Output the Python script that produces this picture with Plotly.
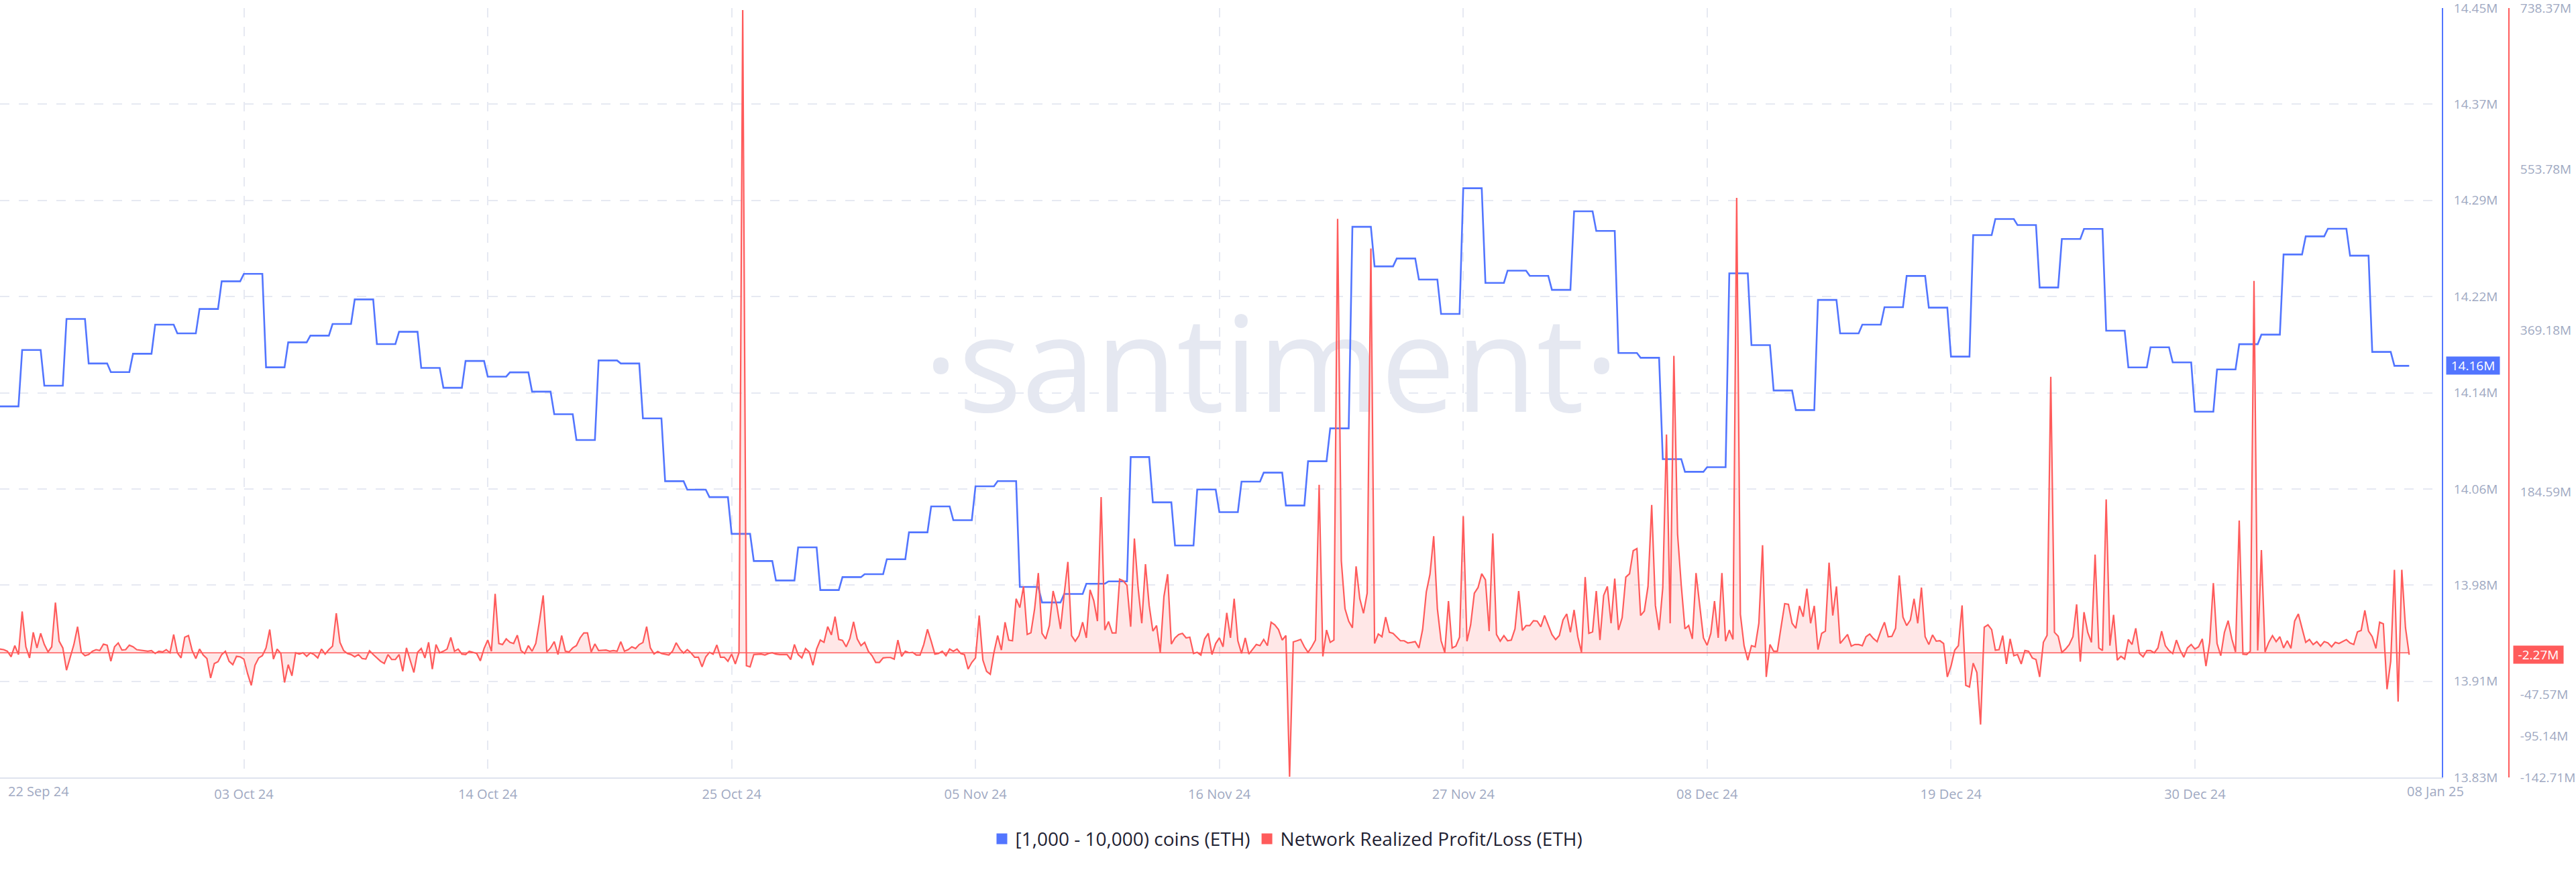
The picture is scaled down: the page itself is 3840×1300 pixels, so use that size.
import numpy as np
import pandas as pd
import plotly.graph_objects as go

# ---------------- data ----------------
START = "2024-09-22 00:00"
X_END = "2025-01-10 03:20"
SAMPLES_PER_DAY = 6  # 4-hour sampling

# [1,000 - 10,000) coins holders balance (million ETH), one value per day
blue_daily = [
    14.129, 14.1745, 14.1457, 14.1995, 14.1636, 14.1566, 14.1714, 14.1949, 14.1878, 14.2075,
    14.2298, 14.2358, 14.1605, 14.1806, 14.186, 14.1954, 14.2152, 14.1792, 14.1891, 14.16,
    14.144, 14.1656, 14.153, 14.1564, 14.1409, 14.1227, 14.1019, 14.166, 14.1636, 14.1193,
    14.0687, 14.0619, 14.0559, 14.0263, 14.0044, 13.9887, 14.0154, 13.981, 13.9914, 13.9938,
    14.0058, 14.0275, 14.0484, 14.0373, 14.0646, 14.0688, 13.9835, 13.971, 13.9778, 13.9861,
    13.988, 14.0882, 14.0517, 14.0169, 14.062, 14.0438, 14.0684, 14.0756, 14.0491, 14.0848,
    14.1113, 14.2737, 14.2418, 14.2482, 14.2312, 14.2035, 14.3048, 14.2285, 14.2384, 14.2342,
    14.2229, 14.2862, 14.2704, 14.172, 14.1682, 14.0865, 14.0763, 14.08, 14.2362, 14.1784,
    14.1418, 14.126, 14.2148, 14.1878, 14.1949, 14.2089, 14.2341, 14.2086, 14.1691, 14.267,
    14.28, 14.2751, 14.2248, 14.2639, 14.272, 14.19, 14.1604, 14.1766, 14.1645, 14.1247,
    14.1588, 14.1791, 14.1868, 14.2514, 14.266, 14.2722, 14.2505, 14.1729, 14.1617,
]

# Network Realized Profit/Loss (million ETH), 4-hourly
red_seg1 = [
    4.3, 3.6, 1.8, -4.6, 8.2, -2.0, 47.3, 6.9, -5.9, 23.5,
    5.6, 22.3, 9.5, 1.0, 6.9, 57.5, 13.3, 5.6, -19.9, -4.6,
    9.5, 29.9, 0.5, -3.3, -2.0, 1.8, 3.6, 2.6, 10.0, 8.7,
    -9.7, 6.9, 11.3, 3.1, 3.6, 8.7, 6.9, 3.6, 3.1, 2.6,
    1.8, 2.6, -0.8, 1.8, 1.0, 3.6, 0.0, 21.0, 0.0, -5.9,
    17.9, 19.7, 2.6, -6.6, 4.3, -2.6, -6.6, -28.9, -12.3, -10.2,
    -2.0, 1.8, -9.7, -13.6, -4.1, -4.6, -7.2, -23.8, -37.3, -14.3,
    -5.9, -3.3, 5.6, 26.6, -7.2, 4.3, -0.8, -34.0, -13.6, -26.3,
    0.0, -1.5, 0.0, -4.1, 0.0, -2.0, -5.9, 4.3, -1.5, 3.6,
    7.7, 45.3, 12.0, 2.6, -0.8, -2.0, -4.6, -2.0, -6.6, -7.2,
    2.3, -2.0, -5.9, -9.7, -12.3, -2.0, -7.7, -7.7, -2.0, -21.2,
    5.6, -8.4, -22.5, 0.5, 4.9, -5.9, 12.0, -18.7, 9.5, 0.0,
    1.8, 4.3, 17.6, 1.8, 4.3, -1.5, -2.0, 1.8, 0.5, -0.8,
    -9.2, 4.9, 14.6, 1.8, 67.5, 10.7, 9.5, 15.9, 12.0, 10.7,
    20.2, 2.6, -0.8, 8.2, 1.8, 10.7, 36.3, 65.7, 1.0, 5.6,
    12.8, -2.0, 19.7, 1.8, 1.0, 5.6, 8.2, 17.1, 22.8, 22.8,
    1.0, 10.2, 2.6, 3.1, 3.1, 1.8, 2.6,
]
red_seg2 = [
    1.8, 12.8, 1.8, 3.6, 6.9, 4.9, 9.5, 11.8, 29.9, 5.6,
    -1.3, 1.5, -0.8, -1.5, -2.6, 1.8, 11.5, 4.3, -0.3, 3.6,
    0.0, -5.1, -5.1, -16.1, -4.6, 0.5, -1.5, 9.0, -5.1, -5.1,
    -9.7, -1.5, -12.8, 0.0, 736.0, -14.8, -16.1, -2.0, -1.5, -1.5,
    -2.6, -0.8, 0.0, -1.5, -2.0, -2.0, -2.0, -7.7, 9.5, -2.0,
    -5.9, 4.9, 1.0, -14.3, 4.3, 14.6, 12.0, 29.9, 20.5, 41.4,
    15.3, 14.3, 6.9, 16.4, 35.5, 15.9, 8.2, 12.0, 1.8, -3.3,
    -11.0, -11.0, -5.9, -5.4, -5.4, -7.2, 14.6, -4.1, 1.8, 0.0,
    0.5, -2.6, -2.6, 9.5, 26.9, 13.3, -1.5, -0.8, 1.8, -3.3,
    4.3, 1.8, 4.3, -0.8, -2.0, -18.7, -11.0, -5.9, 42.7, -8.4,
    -21.2, -24.6, 0.5, 19.7, 3.1, 35.0, 14.6, 13.8, 61.9, 51.7,
    76.0, 21.0, 23.0, 50.4, 91.3, 22.3, 15.9, 31.2, 70.8, 54.2,
    27.4, 67.0, 104.1, 19.7, 13.3, 19.7, 35.0, 17.1, 72.1, 59.8,
    36.3, 178.3, 26.1, 35.8, 22.8, 22.8, 84.4, 82.4, 77.2, 29.9,
    130.9, 74.7, 33.8, 101.5, 54.2, 24.8, 31.2, 0.5, 64.5, 90.0,
    10.0, 17.1, 21.0, 22.3, 17.1, 17.9, -0.8, 0.5, -2.6, 15.9,
    22.3, -2.0, 10.7,
]
red_seg3 = [
    17.1, 6.9, 45.8, 17.1, 61.9, 13.8, -0.8, 17.1, -1.5, 4.3,
    9.5, 8.2, 15.3, 8.2, 35.0, 32.0, 26.6, 14.6, 19.7, -142.0,
    12.5, 13.8, 15.3, 6.9, 0.5, 6.9, 14.6, 192.3, -4.1, 26.1,
    12.0, 14.6, 497.0, 105.4, 50.4, 36.3, 28.6, 99.0, 61.9, 45.3,
    68.3, 463.0, 10.7, 21.5, 18.4, 40.9, 23.5, 22.3, 18.4, 13.8,
    13.8, 11.3, 12.0, 12.8, 5.6, 26.6, 69.6, 90.0, 133.5, 50.4,
    13.8, 0.5, 59.3, 5.6, 7.7, 17.9, 156.5, 13.3, 32.0, 68.3,
    74.7, 90.5, 83.6, 24.8, 136.6, 21.0, 13.3, 19.7, 13.8, 14.6,
    27.4, 70.8, 25.6, 31.2, 31.2, 36.8, 36.3, 29.9, 42.7, 32.5,
    21.0, 15.1, 19.7, 37.6, 44.5, 23.5, 49.1, 18.4, 0.5, 86.7,
    22.3, 24.0, 70.8, 14.6, 65.7, 76.0, 33.8, 84.9, 26.1, 40.2,
    86.7, 90.5, 116.9, 119.4, 42.7, 47.8, 76.0, 169.3, 54.2, 26.1,
    74.7, 250.0, 33.8, 340.0, 136.1, 77.2, 27.4, 31.2, 15.9, 91.3,
    54.2, 17.1, 8.7, 22.3, 59.3, 17.1, 91.3, 13.3, 26.1, 15.3,
    521.0, 44.0, 8.2, -8.4, 8.2, 6.9, 33.8, 123.3, -27.6, 9.5,
    1.8, 1.8, 29.2, 56.3, 55.5, 33.8, 28.1, 53.7, 41.4, 73.4,
    33.8, 53.7, 3.6,
]
red_seg4 = [
    22.3, 24.8, 103.3, 42.7, 76.0, 10.7, 15.9, 21.0, 7.7, 9.5,
    9.5, 8.2, 18.4, 21.5, 16.4, 12.8, 24.8, 35.0, 18.4, 18.9,
    28.1, 88.7, 40.9, 31.2, 37.6, 61.9, 33.8, 74.7, 18.4, 9.5,
    20.5, 13.3, 13.8, 10.7, -27.6, -15.3, 3.1, 8.2, 54.2, -37.3,
    -39.1, -11.8, -22.5, -82.1, 29.2, 32.0, 26.6, 3.1, 3.6, 19.7,
    -12.8, 15.9, -3.3, -2.0, -12.8, 2.6, 1.8, -5.9, -7.7, -27.6,
    12.0, 20.0, 316.0, 23.5, 18.9, 0.5, 4.3, 9.5, 18.4, 55.5,
    -10.2, 46.5, 23.5, 12.0, 112.5, 5.6, 2.6, 175.7, 8.2, 43.5,
    -8.4, -4.1, -7.2, 15.3, 9.5, 28.1, -0.8, -4.6, 2.6, 2.6,
    0.0, 5.6, 24.8, 8.2, 2.6, -0.8, 14.6, 3.1, -5.1, 5.6,
    9.5, 4.3, 6.9, 15.9, -15.3, 12.0, 79.8, 10.7, -3.3, 23.5,
    36.8, 15.9, 1.0, 151.4, -1.5, -2.0, 1.8, 426.0, 2.6, 117.6,
    1.0, 12.0, 19.7, 12.8, 18.4, 5.6, 13.8, 5.1, 36.3, 44.5,
    28.1, 12.0, 15.3, 9.5, 12.8, 7.7, 12.8, 11.3, 6.9, 12.0,
    10.7, 12.8, 15.1, 11.3, 9.5, 24.0, 25.6, 48.6, 24.8, 18.4,
    5.1, 35.0, 33.2, -41.7, -9.7, 95.1, -55.8, 95.1, 28.6, -2.27,
]

blue_ticktext = ["14.45M", "14.37M", "14.29M", "14.22M", "14.14M",
                 "14.06M", "13.98M", "13.91M", "13.83M"]
blue_range = [13.83, 14.45]
red_tickvals = [738.37, 553.78, 369.18, 184.59, -47.57, -95.14, -142.71]
red_ticktext = ["738.37M", "553.78M", "369.18M", "184.59M", "-47.57M", "-95.14M", "-142.71M"]
red_range = [-142.71, 738.37]
x_tickvals = ["2024-09-22", "2024-10-03", "2024-10-14", "2024-10-25", "2024-11-05",
              "2024-11-16", "2024-11-27", "2024-12-08", "2024-12-19", "2024-12-30"]
x_ticktext = ["", "03 Oct 24", "14 Oct 24", "25 Oct 24", "05 Nov 24",
              "16 Nov 24", "27 Nov 24", "08 Dec 24", "19 Dec 24", "30 Dec 24"]
first_label = "22 Sep 24"
last_label = "08 Jan 25"

name_blue = "[1,000 - 10,000) coins (ETH)"
name_red = "Network Realized Profit/Loss (ETH)"

# ---------------- build series ----------------
red = np.array(red_seg1 + red_seg2 + red_seg3 + red_seg4)
n = len(red)
dates = pd.date_range(START, periods=n, freq="4h")
blue = np.repeat(np.array(blue_daily), SAMPLES_PER_DAY)
if len(blue) < n:
    blue = np.concatenate([blue, np.full(n - len(blue), blue[-1])])
blue = blue[:n]

BLUE = "#5275ff"
RED = "#ff5b5b"
GRID = "#e6e9f2"
TICK = "#a0a9c2"
FONT = "Open Sans"

W, H = 3840, 1300
ML, MR, MT, MB = 0, 100, 12, 141
paper_w = W - ML - MR
plot_right = 3640
x_dom_end = plot_right / paper_w

x0 = pd.Timestamp(START)
x1 = pd.Timestamp(X_END)

# tiny padding so the end ticks are kept inside the axis range
eps_b = (blue_range[1] - blue_range[0]) * 1e-6
eps_r = (red_range[1] - red_range[0]) * 1e-6

fig = go.Figure()

# watermark (drawn first, behind data)
wm_x = x0 + (x1 - x0) * 0.5206
wm_y = blue_range[0] + (blue_range[1] - blue_range[0]) * 0.518
fig.add_trace(go.Scatter(
    x=[wm_x], y=[wm_y], mode="text", text=["·santiment·"],
    textfont=dict(family=FONT, size=198, color="#e5e8f1"),
    textposition="middle center", showlegend=False, hoverinfo="skip",
    cliponaxis=False, yaxis="y"))

fig.add_trace(go.Scatter(
    x=dates, y=blue, mode="lines", line=dict(color=BLUE, width=2.6),
    name=name_blue, showlegend=False, yaxis="y", hoverinfo="skip"))

fig.add_trace(go.Scatter(
    x=dates, y=red, mode="lines", line=dict(color=RED, width=2.2),
    fill="tozeroy", fillcolor="rgba(255,91,91,0.15)",
    name=name_red, showlegend=False, yaxis="y2", hoverinfo="skip"))

fig.add_trace(go.Scatter(
    x=dates, y=np.zeros(n), mode="lines", line=dict(color=RED, width=1.5),
    showlegend=False, yaxis="y2", hoverinfo="skip"))

# legend entries (square swatches)
for nm, col in [(name_blue, BLUE), (name_red, RED)]:
    fig.add_trace(go.Scatter(
        x=[None], y=[None], mode="markers",
        marker=dict(symbol="square", size=16, color=col),
        name=nm, showlegend=True, yaxis="y"))

fig.update_layout(
    width=W, height=H,
    margin=dict(l=ML, r=MR, t=MT, b=MB, autoexpand=False),
    paper_bgcolor="white", plot_bgcolor="white",
    font=dict(family=FONT, size=20, color=TICK),
    showlegend=True,
    legend=dict(orientation="h", x=1919 / paper_w, xanchor="center",
                y=-0.08, yanchor="middle",
                font=dict(family=FONT, size=28, color="#1f2233"),
                itemsizing="trace", bgcolor="rgba(0,0,0,0)"),
    xaxis=dict(
        type="date", domain=[0, x_dom_end], range=[x0, x1],
        tickvals=x_tickvals, ticktext=x_ticktext, ticks="",
        tickfont=dict(family=FONT, size=20, color=TICK),
        ticklabelstandoff=6,
        showgrid=True, gridcolor=GRID, gridwidth=2, griddash="14px,14px",
        showline=True, linecolor="#dfe3ee", linewidth=2,
        zeroline=False, automargin=False, fixedrange=True),
    yaxis=dict(
        side="right", anchor="x",
        range=[blue_range[0] - eps_b, blue_range[1] + eps_b],
        tickvals=list(np.linspace(blue_range[1], blue_range[0], len(blue_ticktext))),
        ticktext=blue_ticktext, ticks="", ticklabelstandoff=12,
        ticklabeloverflow="allow",
        tickfont=dict(family=FONT, size=19, color=TICK),
        showgrid=True, gridcolor=GRID, gridwidth=2, griddash="14px,14px",
        showline=True, linecolor=BLUE, linewidth=2,
        zeroline=False, automargin=False),
    yaxis2=dict(
        side="right", overlaying="y", anchor="free", position=1.0,
        range=[red_range[0] - eps_r, red_range[1] + eps_r],
        tickvals=red_tickvals, ticktext=red_ticktext,
        ticks="", ticklabelstandoff=12, ticklabeloverflow="allow",
        tickfont=dict(family=FONT, size=19, color=TICK),
        showgrid=False, showline=True, linecolor=RED, linewidth=2,
        zeroline=False, automargin=False),
)

plot_h = H - MT - MB
annotations = [
    dict(text=first_label, xref="paper", yref="paper", x=10 / paper_w,
         y=-20 / plot_h, xanchor="left", yanchor="middle", showarrow=False,
         font=dict(family=FONT, size=20, color=TICK)),
    dict(text=last_label, xref="paper", yref="paper", x=3630 / paper_w,
         y=-20 / plot_h, xanchor="center", yanchor="middle", showarrow=False,
         font=dict(family=FONT, size=20, color=TICK)),
    dict(text=f"{blue[-1]:.2f}M", xref="paper", yref="y", x=3646 / paper_w,
         y=blue[-1], xanchor="left", yanchor="middle", showarrow=False,
         bgcolor=BLUE, borderpad=3, width=73, height=20,
         font=dict(family=FONT, size=19, color="white")),
    dict(text=f"{red[-1]:.2f}M", xref="paper", yref="y2", x=3746 / paper_w,
         y=red[-1], xanchor="left", yanchor="middle", showarrow=False,
         bgcolor=RED, borderpad=3, width=68, height=20,
         font=dict(family=FONT, size=19, color="white")),
]
fig.update_layout(annotations=annotations)

fig.write_html("out.html")
